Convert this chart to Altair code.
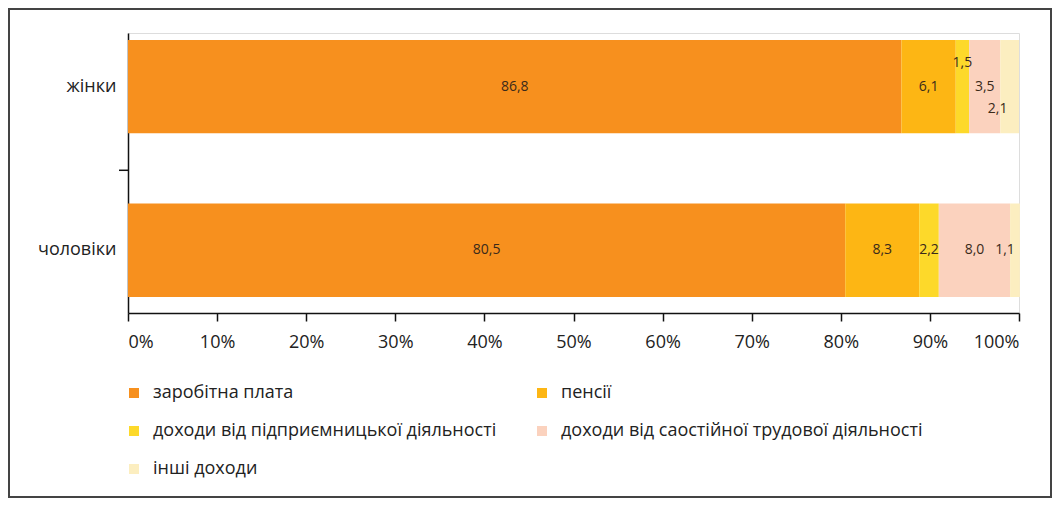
import altair as alt
import pandas as pd

groups = ["жінки", "чоловіки"]
series = [
    "заробітна плата",
    "пенсії",
    "доходи від підприємницької  діяльності",
    "доходи від саостійної трудової діяльності",
    "інші доходи",
]
women = [86.8, 6.1, 1.5, 3.5, 2.1]
men = [80.5, 8.3, 2.2, 8.0, 1.1]
colors = ["#F7901E", "#FDB614", "#FDD92A", "#FBD2BE", "#FCEEC0"]
ticks = [0, 10, 20, 30, 40, 50, 60, 70, 80, 90, 100]
# legend is laid out column by column: left column first, then right column
legend_order = [0, 2, 4, 1, 3]

rows = []
for g, vals in zip(groups, [women, men]):
    for i, (s, v) in enumerate(zip(series, vals)):
        rows.append({"group": g, "series": s, "order": i, "value": v,
                     "label": f"{v:.1f}".replace(".", ",")})
df = pd.DataFrame(rows)

FONT = "Open Sans"
FS = 18

yenc = alt.Y("group:N", sort=groups,
             scale=alt.Scale(paddingInner=0.43, paddingOuter=0.07, align=0.3),
             axis=alt.Axis(title=None, ticks=False, labelFontSize=FS, labelPadding=12,
                           labelColor="#222", labelFont=FONT, domainColor="#111",
                           domainWidth=1.5))

base = alt.Chart(df)

bars = base.mark_bar().encode(
    y=yenc,
    x=alt.X("value:Q", stack="zero",
            scale=alt.Scale(domain=[0, 100], nice=False),
            axis=alt.Axis(values=ticks, labelExpr="datum.value + '%'", title=None,
                          grid=False, tickSize=8, tickColor="#111", tickWidth=1.5,
                          domainColor="#111", domainWidth=1.5, labelFontSize=FS,
                          labelFont=FONT, labelColor="#222", labelPadding=12)),
    color=alt.Color("series:N",
                    scale=alt.Scale(domain=[series[i] for i in legend_order],
                                    range=[colors[i] for i in legend_order]),
                    legend=alt.Legend(orient="none", legendX=-3, legendY=351, columns=2,
                                      title=None, symbolType="square", symbolSize=100,
                                      symbolStrokeWidth=0, labelFontSize=FS,
                                      labelFont=FONT, labelColor="#222", labelLimit=0,
                                      columnPadding=32, rowPadding=20, labelOffset=10)),
    order=alt.Order("order:Q"),
)

stacked = base.transform_stack(
    stack="value", groupby=["group"], sort=[alt.SortField("order")], as_=["x0", "x1"]
).transform_calculate(mid="(datum.x0 + datum.x1) / 2")

txt_kw = dict(fontSize=14, font=FONT, color="#3a2a1a")
text_enc = dict(x=alt.X("mid:Q"), y=alt.Y("group:N", sort=groups), text="label:N")

main_txt = stacked.transform_filter(
    "!(datum.group == 'жінки' && (datum.order == 2 || datum.order == 4)) && !(datum.group == 'чоловіки' && datum.order == 4)"
).mark_text(**txt_kw).encode(**text_enc)
up_txt = stacked.transform_filter(
    "datum.group == 'жінки' && datum.order == 2"
).mark_text(dy=-24, **txt_kw).encode(**text_enc)
down_txt = stacked.transform_filter(
    "datum.group == 'жінки' && datum.order == 4"
).mark_text(dy=22, dx=-12, **txt_kw).encode(**text_enc)
end_txt = stacked.transform_filter(
    "datum.group == 'чоловіки' && datum.order == 4"
).mark_text(dx=-10, **txt_kw).encode(**text_enc)

tick_df = pd.DataFrame({"group": [groups[1]]})
ytick = alt.Chart(tick_df).mark_rule(yOffset=-80, color="#111", strokeWidth=1.5).encode(
    y=alt.Y("group:N", sort=groups), x=alt.value(-9), x2=alt.value(0)
)

frame = alt.Chart(pd.DataFrame({"f": [0]})).mark_rect(
    fillOpacity=0, stroke="#444", strokeWidth=2
).encode(x=alt.value(-119), x2=alt.value(923), y=alt.value(-24), y2=alt.value(464))

chart = alt.layer(frame, bars, main_txt, up_txt, down_txt, end_txt, ytick).properties(
    width=891, height=280,
    padding={"left": 120, "top": 25, "right": 33, "bottom": 185},
    autosize=alt.AutoSizeParams(type="none"),
).configure_view(stroke=None).configure(background="white")

chart.save("out.html", embed_options={"renderer": "svg", "actions": False})
